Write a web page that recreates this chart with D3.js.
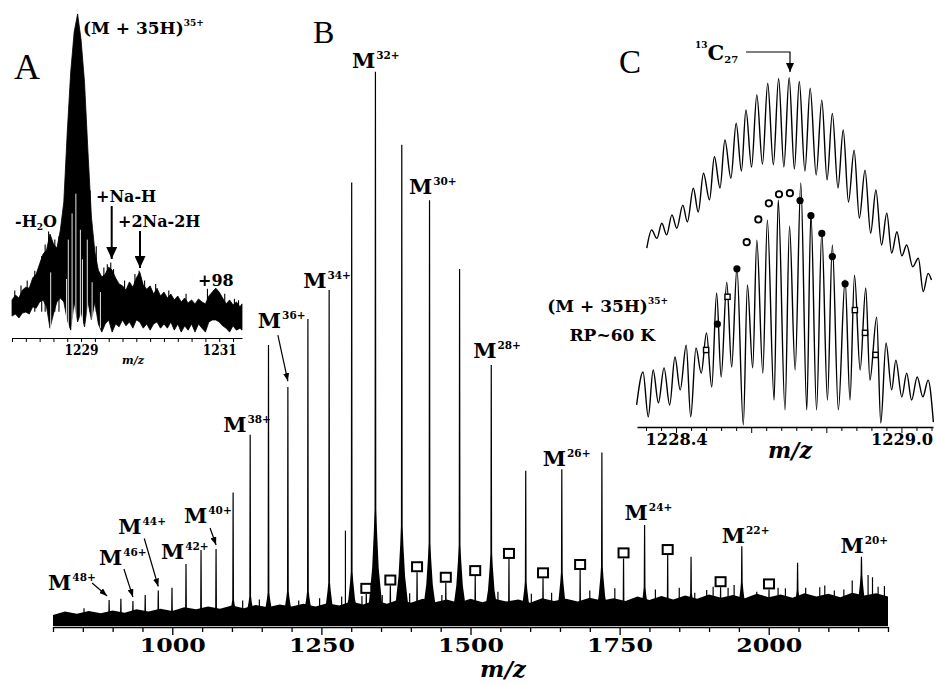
<!DOCTYPE html>
<html>
<head>
<meta charset="utf-8">
<script src="https://cdn.jsdelivr.net/npm/d3@7"></script>
<style>
  body { margin: 0; background: #fff; }
  svg { display: block; }
</style>
</head>
<body>
<svg id="chart" width="937" height="685"></svg>
<script>
// ---------- Panel B: full ESI spectrum ----------
const chargeStates = [48, 47, 46, 45, 44, 43, 42, 41, 40, 39, 38, 37, 36, 35, 34,
  33, 32, 31, 30, 29, 28, 27, 26, 25, 24, 23, 22, 21, 20];
const peakMz = [894.1, 913.8, 934.0, 954.6, 976.5, 999.5, 1023.0, 1048.2, 1073.4,
  1102.0, 1130.6, 1161.3, 1193.8, 1227.4, 1263.0, 1300.8, 1340.6, 1384.8, 1431.3,
  1481.7, 1534.8, 1592.6, 1653.1, 1720.3, 1791.9, 1869.8, 1954.9, 2048.4, 2155.5];
const peakHeight = [4.7, 4.9, 4.5, 5.6, 6.4, 6.9, 11.2, 13.7, 13.9, 24.1, 34.5, 50.7,
  43.1, 55.4, 60.6, 80.0, 100, 86.8, 76.8, 64.4, 47.1, 28.0, 28.3, 31.3, 18.2, 12.5,
  14.4, 11.4, 12.5];
const peakBase = [1.2, 1.2, 1.2, 1.5, 1.6, 2.0, 2.6, 3.0, 3.2, 4.7, 5.3, 6.0, 6.2, 6.2,
  7.8, 9.8, 21, 18, 15, 14.6, 13, 8, 9.6, 10.7, 7, 6, 7.8, 6.5, 9.2];
const labeledCharges = [48, 46, 44, 42, 40, 38, 36, 34, 32, 30, 28, 26, 24, 22, 20];

// second species, marked with open squares
const squareMz = [1325.3, 1365.6, 1410.4, 1458.6, 1507.9, 1564.5, 1621.6, 1683.8,
  1756.6, 1830.6, 1919.3, 2000.5];
const squareHeight = [5.8, 7.3, 9.7, 7.8, 9.0, 12.1, 8.6, 10.1, 12.2, 12.8, 7.0, 6.6];

// small unassigned spikes above the noise
const minorMz = [1284.0, 1290.3, 1118.0, 1146.0, 1247.0, 1318.0, 1452.0, 1602.0,
  1876.0, 1906.8, 1931.9, 2015.7, 2085.6, 2166.6, 2183.4, 2110.0, 1980.0, 852.0,
  1212.0, 1352.0, 1398.0, 1546.0, 1636.0, 1700.0, 1742.0, 1810.0, 1850.0, 1896.0,
  1942.0, 2028.0, 2062.0, 2094.0, 2126.0, 2140.0, 2174.0, 2194.0];
const minorHeight = [5.3, 17.2, 4.6, 4.8, 5.0, 5.4, 5.6, 5.8, 6.0, 7.1, 6.9, 6.9, 7.0,
  9.2, 7.1, 6.4, 6.2, 3.2, 4.6, 5.6, 5.9, 6.2, 6.0, 6.4, 6.8, 6.6, 6.9, 6.5, 7.4, 6.8,
  6.9, 7.3, 6.6, 8.2, 8.8, 7.2];

// top of the noise band
const noiseMz = [800, 820, 840, 860, 880, 900, 920, 940, 960, 980, 1000, 1020, 1040,
  1060, 1080, 1100, 1120, 1140, 1160, 1180, 1200, 1220, 1240, 1260, 1280, 1300, 1320,
  1340, 1360, 1380, 1400, 1420, 1440, 1460, 1480, 1500, 1520, 1540, 1560, 1580, 1600,
  1620, 1640, 1660, 1680, 1700, 1720, 1740, 1760, 1780, 1800, 1820, 1840, 1860, 1880,
  1900, 1920, 1940, 1960, 1980, 2000, 2020, 2040, 2060, 2080, 2100, 2120, 2140, 2160,
  2180, 2200];
const noiseLevel = [2.0, 2.6, 2.2, 2.7, 2.3, 2.8, 2.4, 3.0, 2.6, 3.1, 2.7, 3.4, 3.0,
  3.5, 3.1, 3.7, 3.2, 3.8, 3.4, 3.9, 3.5, 4.0, 3.5, 4.1, 3.7, 4.4, 3.9, 4.6, 4.0, 4.8,
  4.2, 4.9, 4.3, 4.8, 4.2, 4.9, 4.3, 4.9, 4.4, 4.8, 4.2, 5.0, 4.5, 4.9, 4.4, 5.1, 4.6,
  5.0, 4.5, 5.3, 4.7, 5.4, 4.8, 5.5, 4.9, 5.7, 5.1, 5.6, 5.0, 5.8, 5.2, 5.7, 5.1, 5.9,
  5.3, 5.8, 5.2, 6.0, 5.5, 5.9, 5.3];
const mainTickLabels = [1000, 1250, 1500, 1750, 2000];

// ---------- Panel A: zoom on the 35+ ion ----------
const specAMz = [1228.00, 1228.05, 1228.10, 1228.15, 1228.20, 1228.25, 1228.30, 1228.35,
  1228.40, 1228.45, 1228.50, 1228.55, 1228.60, 1228.65, 1228.70, 1228.75, 1228.80,
  1228.85, 1228.90, 1228.95, 1229.00, 1229.05, 1229.10, 1229.15, 1229.20, 1229.25,
  1229.30, 1229.35, 1229.40, 1229.45, 1229.50, 1229.55, 1229.60, 1229.65, 1229.70,
  1229.75, 1229.80, 1229.85, 1229.90, 1229.95, 1230.00, 1230.05, 1230.10, 1230.15,
  1230.20, 1230.25, 1230.30, 1230.35, 1230.40, 1230.45, 1230.50, 1230.55, 1230.60,
  1230.65, 1230.70, 1230.75, 1230.80, 1230.85, 1230.90, 1230.95, 1231.00, 1231.05,
  1231.10, 1231.15, 1231.20, 1231.25, 1231.30, 1231.33];
const specAHigh = [11.6, 13.1, 12.2, 14.6, 15.5, 15.2, 18.3, 19.5, 22.6, 25.6, 26.8, 31.7,
  28.7, 27.4, 32.9, 41.5, 62.8, 81.1, 93.3, 98.8, 90.9, 78.0, 56.7, 36.9, 26.2, 20.7,
  18.6, 19.5, 21.6, 20.7, 18.3, 16.5, 15.9, 14.6, 17.1, 15.5, 18.3, 20.1, 16.2, 14.9,
  15.9, 13.4, 15.2, 12.8, 14.0, 12.2, 13.4, 11.6, 12.8, 11.0, 12.2, 10.7, 11.6, 10.4,
  11.9, 11.0, 10.4, 12.8, 14.0, 15.2, 14.0, 12.2, 10.4, 11.6, 10.1, 11.0, 9.5, 10.4];
const specALow = [6.7, 7.3, 6.1, 7.6, 7.9, 7.3, 9.5, 9.1, 11.0, 11.6, 9.5, 3.0, 7.3, 11.0,
  12.2, 11.0, 5.5, 2.4, 11.0, 4.9, 7.9, 3.4, 11.0, 5.5, 11.0, 4.3, 1.8, 4.3, 5.5, 1.8,
  4.3, 3.4, 5.5, 3.7, 4.9, 3.0, 5.5, 4.9, 3.0, 4.3, 2.4, 4.3, 4.9, 3.0, 4.3, 3.0, 4.9,
  2.4, 4.3, 1.8, 3.7, 2.4, 4.3, 1.8, 4.3, 3.0, 1.8, 4.9, 5.5, 5.5, 4.9, 3.7, 3.0, 1.8,
  3.7, 2.4, 3.0, 2.4];
// single noise spikes (top) and deep noise dips (white streaks) in A
const spikeAMz = [1228.04, 1228.13, 1228.22, 1228.33, 1228.43, 1228.48, 1228.53, 1228.62,
  1228.68, 1229.13, 1229.22, 1229.33, 1229.38, 1229.43, 1229.47, 1229.63, 1229.78,
  1229.84, 1229.92, 1230.08, 1230.27, 1230.52, 1230.83, 1230.92, 1230.96, 1231.08,
  1231.22, 1231.28];
const spikeAInt = [14.5, 16.0, 17.5, 20.5, 25.0, 28.5, 32.5, 30.0, 31.0, 45.0, 28.0, 21.5,
  22.5, 23.0, 21.0, 17.5, 19.5, 20.5, 17.5, 16.5, 14.5, 13.5, 15.0, 14.6, 14.2, 13.5,
  12.0, 11.5];
const dipAMz = [1228.56, 1228.79, 1228.815, 1228.87, 1228.925, 1228.99, 1229.02, 1229.09,
  1229.16, 1229.28];
const dipAInt = [20, 18, 30, 38, 44, 33, 24, 30, 17, 14];
const tickLabelsA = [1229, 1231];

// ---------- Panel C: isotopic fine structure ----------
const upperMz = [1228.322, 1228.335, 1228.349, 1228.362, 1228.375, 1228.389, 1228.402,
  1228.418, 1228.430, 1228.446, 1228.459, 1228.473, 1228.489, 1228.502, 1228.517,
  1228.530, 1228.546, 1228.560, 1228.574, 1228.586, 1228.601, 1228.615, 1228.630,
  1228.644, 1228.659, 1228.673, 1228.687, 1228.701, 1228.715, 1228.728, 1228.743,
  1228.757, 1228.773, 1228.788, 1228.802, 1228.816, 1228.831, 1228.845, 1228.859,
  1228.874, 1228.888, 1228.903, 1228.918, 1228.932, 1228.947, 1228.961, 1228.974,
  1228.988, 1229.001, 1229.014, 1229.030, 1229.045, 1229.058, 1229.071, 1229.080];
const upperInt = [51.1, 56.3, 53.9, 58.2, 54.9, 60.6, 56.8, 63.4, 58.6, 68.2, 61.4, 72.5,
  64.9, 77.2, 68.3, 82.0, 71.1, 86.8, 73.1, 90.6, 74.3, 94.9, 75.1, 98.2, 74.9, 99.6,
  74.3, 99.8, 73.7, 98.7, 73.1, 96.8, 72.0, 93.4, 70.6, 89.6, 68.3, 84.9, 64.3, 79.1,
  59.7, 73.4, 55.4, 67.7, 52.0, 61.1, 49.7, 55.8, 48.9, 52.0, 45.8, 48.2, 38.7, 43.9,
  42.0];
const lowerMz = [1228.295, 1228.312, 1228.326, 1228.339, 1228.353, 1228.368, 1228.383,
  1228.397, 1228.411, 1228.427, 1228.439, 1228.453, 1228.467, 1228.481, 1228.495,
  1228.508, 1228.520, 1228.535, 1228.548, 1228.562, 1228.579, 1228.590, 1228.604,
  1228.615, 1228.631, 1228.643, 1228.661, 1228.672, 1228.690, 1228.702, 1228.717,
  1228.732, 1228.748, 1228.759, 1228.774, 1228.788, 1228.803, 1228.816, 1228.832,
  1228.850, 1228.863, 1228.875, 1228.890, 1228.905, 1228.916, 1228.934, 1228.945,
  1228.959, 1228.974, 1228.985, 1229.001, 1229.014, 1229.027, 1229.042, 1229.057,
  1229.071, 1229.085];
const lowerInt = [6.3, 15.7, 2.9, 16.3, 6.9, 16.9, 6.3, 20.0, 10.6, 23.4, 2.9, 22.6, 15.4,
  26.9, 11.4, 38.3, 14.3, 41.4, 17.1, 45.4, 0.6, 40.6, 16.9, 53.4, 15.4, 59.1, 7.7, 64.9,
  4.9, 57.4, 16.3, 69.7, 4.9, 61.1, 4.9, 55.7, 7.7, 52.0, 4.9, 42.0, 7.7, 43.4, 16.3,
  39.7, 13.4, 31.4, 1.1, 24.0, 10.6, 19.1, 8.6, 15.4, 7.7, 14.3, 8.6, 13.4, 1.4];
const openCircleMz = [1228.588, 1228.619, 1228.647, 1228.674, 1228.703];
const openCircleInt = [52.8, 59.3, 63.9, 66.5, 66.8];
const filledDotMz = [1228.510, 1228.562, 1228.730, 1228.759, 1228.788, 1228.816, 1228.850];
const filledDotInt = [29.4, 45.2, 64.7, 60.4, 55.3, 48.7, 40.9];
const smallSquareMz = [1228.480, 1228.537, 1228.876, 1228.903, 1228.931];
const smallSquareInt = [22.0, 37.2, 33.4, 26.9, 20.6];
const tickLabelsC = [1228.4, 1229.0];

// ---------- drawing ----------
const SERIF = "DejaVu Serif";
const svg = d3.select("#chart");
const defs = svg.append("defs");
function arrowMarker(id, w, h) {
  defs.append("marker").attr("id", id).attr("viewBox", `0 0 ${w} ${h}`)
    .attr("refX", w).attr("refY", h / 2).attr("markerWidth", w).attr("markerHeight", h)
    .attr("markerUnits", "userSpaceOnUse").attr("orient", "auto")
    .append("path").attr("d", `M0,0L${w},${h / 2}L0,${h}Z`).attr("fill", "#000");
}
arrowMarker("arrow-sm", 8, 6);
arrowMarker("arrow-lg", 12, 11);
arrowMarker("arrow-c", 9, 8);

function ionLabel(g, px, py, charge, size) {
  const t = g.append("text").attr("x", px).attr("y", py)
    .attr("font-family", SERIF).attr("font-weight", "bold").attr("fill", "#000");
  t.append("tspan").attr("font-size", size).text("M");
  t.append("tspan").attr("font-size", size * 0.5).attr("dy", -size * 0.42).attr("dx", 1)
    .text(charge + "+");
}

// --- B ---
const x = d3.scaleLinear([800, 2200], [53, 888]);
const y = d3.scaleLinear([0, 100], [626, 71.7]);
const gB = svg.append("g");

gB.append("path")
  .datum(noiseMz.map((m, i) => [m, noiseLevel[i]]))
  .attr("fill", "#000")
  .attr("d", d3.area().x(d => x(d[0])).y0(y(0)).y1(d => y(d[1])));

// minor spikes first so the real peaks sit on top
gB.append("g").selectAll("line").data(minorMz).join("line")
  .attr("x1", d => x(d)).attr("x2", d => x(d))
  .attr("y1", y(0)).attr("y2", (d, i) => y(minorHeight[i]))
  .attr("stroke", "#000").attr("stroke-width", 1.2);

const peakLine = d3.line();
function drawPeak(mz, h, b, hw) {
  const px = x(mz), base = y(0), top = y(h), body = y(b), bh = base - body;
  const pts = [[px - hw, base], [px - hw * 0.5, base - bh * 0.2], [px - hw * 0.25, base - bh * 0.5],
    [px - hw * 0.12, base - bh * 0.82], [px - 0.9, body], [px - 0.6, top], [px + 0.6, top],
    [px + 0.9, body], [px + hw * 0.12, base - bh * 0.82], [px + hw * 0.25, base - bh * 0.5],
    [px + hw * 0.5, base - bh * 0.2], [px + hw, base]];
  gB.append("path").attr("d", peakLine(pts) + "Z").attr("fill", "#000");
}
peakMz.forEach((m, i) => drawPeak(m, peakHeight[i], peakBase[i], 13));
squareMz.forEach((m, i) => drawPeak(m, squareHeight[i], 2.8, 7));

gB.append("g").selectAll("rect").data(squareMz).join("rect")
  .attr("x", d => x(d) - 5).attr("y", (d, i) => y(squareHeight[i]) - 10)
  .attr("width", 10).attr("height", 9)
  .attr("fill", "#fff").attr("stroke", "#000").attr("stroke-width", 2);

const axB = gB.append("g").attr("transform", "translate(0,627)")
  .call(d3.axisBottom(x).tickValues(d3.range(800, 2201, 50)).tickSize(5).tickSizeOuter(0)
    .tickPadding(7).tickFormat(d => mainTickLabels.includes(d) ? d : ""));
axB.select(".domain").attr("stroke-width", 1.6);
axB.selectAll(".tick line").attr("stroke-width", 1.3)
  .attr("y2", d => mainTickLabels.includes(d) ? 8 : 5);
axB.selectAll(".tick text").attr("font-family", SERIF).attr("font-weight", "bold")
  .attr("font-size", 19).attr("fill", "#000")
  .filter(d => mainTickLabels.includes(d))
  .attr("textLength", 66).attr("lengthAdjust", "spacingAndGlyphs");
gB.append("text").attr("x", 503).attr("y", 677).attr("text-anchor", "middle")
  .attr("font-family", SERIF).attr("font-weight", "bold").attr("font-style", "italic")
  .attr("font-size", 23).text("m/z");

// label placement relative to each peak top: [dx, dy, arrow]
const labelLayout = {
  48: [-61, -10, [-17, -17, -2, -4]], 46: [-34, -36, [-9, -32, 0, -4]],
  44: [-40, -57, [-14, -52, 0, -4]], 42: [-25, -5], 40: [-32, -26, [-6, -21, 0, -4]],
  38: [-27, -3], 36: [-30, -59, [-10, -52, 0, -6]], 34: [-26, -2], 32: [-23.5, -4],
  30: [-20.6, -6], 28: [-18, -7], 26: [-19, -3], 24: [-20, -5], 22: [-20, -3], 20: [-21, -4]
};
labeledCharges.forEach(z => {
  const i = chargeStates.indexOf(z);
  const px = x(peakMz[i]), py = y(peakHeight[i]);
  const [dx, dy, ar] = labelLayout[z];
  ionLabel(gB, px + dx, py + dy, z, 21);
  if (ar) {
    gB.append("line").attr("x1", px + ar[0]).attr("y1", py + ar[1])
      .attr("x2", px + ar[2]).attr("y2", py + ar[3])
      .attr("stroke", "#000").attr("stroke-width", 1.2).attr("marker-end", "url(#arrow-sm)");
  }
});

// --- A ---
const xA = d3.scaleLinear([1228.0, 1231.33], [12, 242]);
const yA = d3.scaleLinear([0, 100], [338, 10]);
const gA = svg.append("g");
gA.append("path")
  .datum(specAMz.map((m, i) => [m, specALow[i], specAHigh[i]]))
  .attr("fill", "#000").attr("stroke", "#000").attr("stroke-width", 0.8)
  .attr("d", d3.area().x(d => xA(d[0])).y0(d => yA(d[1])).y1(d => yA(d[2])));
gA.append("g").selectAll("line").data(spikeAMz).join("line")
  .attr("x1", d => xA(d)).attr("x2", d => xA(d))
  .attr("y1", yA(8)).attr("y2", (d, i) => yA(spikeAInt[i]))
  .attr("stroke", "#000").attr("stroke-width", 1.1);
gA.append("g").selectAll("line").data(dipAMz).join("line")
  .attr("x1", d => xA(d)).attr("x2", d => xA(d))
  .attr("y1", yA(3)).attr("y2", (d, i) => yA(dipAInt[i]))
  .attr("stroke", "#fff").attr("stroke-width", 0.9);

const axA = gA.append("g").attr("transform", "translate(0,338)")
  .call(d3.axisBottom(xA).tickValues(d3.range(0, 17).map(i => 1228 + i * 0.2)).tickSize(4)
    .tickSizeOuter(0).tickPadding(3)
    .tickFormat(d => tickLabelsA.some(v => Math.abs(v - d) < 1e-6) ? d3.format("d")(d) : ""));
axA.select(".domain").attr("stroke-width", 1.2);
axA.selectAll(".tick line").attr("stroke-width", 1);
axA.selectAll(".tick text").attr("font-family", SERIF).attr("font-weight", "bold")
  .attr("font-size", 14).attr("fill", "#000")
  .filter(d => tickLabelsA.some(v => Math.abs(v - d) < 1e-6))
  .attr("textLength", 34).attr("lengthAdjust", "spacingAndGlyphs");
gA.append("text").attr("x", 133).attr("y", 364).attr("text-anchor", "middle")
  .attr("font-family", SERIF).attr("font-weight", "bold").attr("font-style", "italic")
  .attr("font-size", 11).text("m/z");

function boldText(g, px, py, size) {
  return g.append("text").attr("x", px).attr("y", py).attr("font-family", SERIF)
    .attr("font-weight", "bold").attr("font-size", size).attr("fill", "#000");
}
const tA = boldText(gA, 83, 34, 17);
tA.append("tspan").text("(M + 35H)");
tA.append("tspan").attr("font-size", 9).attr("dy", -8).text("35+");
const tH2O = boldText(gA, 15, 227, 16);
tH2O.append("tspan").text("-H");
tH2O.append("tspan").attr("font-size", 9).attr("dy", 3).text("2");
tH2O.append("tspan").attr("dy", -3).text("O");
boldText(gA, 96, 202, 16).text("+Na-H");
boldText(gA, 118, 227, 16).text("+2Na-2H");
boldText(gA, 198, 286, 16).text("+98");
gA.append("line").attr("x1", 111.7).attr("x2", 111.7).attr("y1", 206).attr("y2", 259)
  .attr("stroke", "#000").attr("stroke-width", 2).attr("marker-end", "url(#arrow-lg)");
gA.append("line").attr("x1", 140).attr("x2", 140).attr("y1", 231).attr("y2", 268)
  .attr("stroke", "#000").attr("stroke-width", 2).attr("marker-end", "url(#arrow-lg)");

// --- C ---
const xC = d3.scaleLinear([1228.296, 1229.084], [637, 933]);
const yC = d3.scaleLinear([0, 100], [427, 77]);
const gC = svg.append("g");
const traceC = d3.line().x(d => xC(d[0])).y(d => yC(d[1])).curve(d3.curveMonotoneX);
gC.append("path").datum(upperMz.map((m, i) => [m, upperInt[i]]))
  .attr("d", traceC).attr("fill", "none").attr("stroke", "#000").attr("stroke-width", 1.4);
gC.append("path").datum(lowerMz.map((m, i) => [m, lowerInt[i]]))
  .attr("d", traceC).attr("fill", "none").attr("stroke", "#000").attr("stroke-width", 1.4);

gC.append("g").selectAll("circle").data(openCircleMz).join("circle")
  .attr("cx", d => xC(d)).attr("cy", (d, i) => yC(openCircleInt[i])).attr("r", 3.2)
  .attr("fill", "#fff").attr("stroke", "#000").attr("stroke-width", 1.8);
gC.append("g").selectAll("circle").data(filledDotMz).join("circle")
  .attr("cx", d => xC(d)).attr("cy", (d, i) => yC(filledDotInt[i])).attr("r", 3.6)
  .attr("fill", "#000");
gC.append("g").selectAll("rect").data(smallSquareMz).join("rect")
  .attr("x", d => xC(d) - 2.6).attr("y", (d, i) => yC(smallSquareInt[i]) - 2.6)
  .attr("width", 5.2).attr("height", 5.2)
  .attr("fill", "#fff").attr("stroke", "#000").attr("stroke-width", 1.4);

const isMajorC = d => Math.abs((d - 1228.4) / 0.2 - Math.round((d - 1228.4) / 0.2)) < 1e-6;
const axC = gC.append("g").attr("transform", "translate(0,427)")
  .call(d3.axisBottom(xC).tickValues(d3.range(0, 20).map(i => 1228.32 + i * 0.04))
    .tickSize(4).tickSizeOuter(0).tickPadding(3)
    .tickFormat(d => tickLabelsC.some(v => Math.abs(v - d) < 1e-6) ? d3.format(".1f")(d) : ""));
axC.select(".domain").attr("stroke-width", 1.3);
axC.selectAll(".tick line").attr("stroke-width", 1).attr("y2", d => isMajorC(d) ? 6 : 4);
axC.selectAll(".tick text").attr("font-family", SERIF).attr("font-weight", "bold")
  .attr("font-size", 16).attr("fill", "#000")
  .filter(d => tickLabelsC.some(v => Math.abs(v - d) < 1e-6))
  .attr("textLength", 62).attr("lengthAdjust", "spacingAndGlyphs");
gC.append("text").attr("x", 790).attr("y", 458).attr("text-anchor", "middle")
  .attr("font-family", SERIF).attr("font-weight", "bold").attr("font-style", "italic")
  .attr("font-size", 22).text("m/z");

const tC = boldText(gC, 668, 312, 17).attr("text-anchor", "end");
tC.append("tspan").text("(M + 35H)");
tC.append("tspan").attr("font-size", 9).attr("dy", -8).text("35+");
boldText(gC, 655, 341, 17).attr("text-anchor", "end").text("RP~60 K");

const t13 = boldText(gC, 695, 60, 21);
t13.append("tspan").attr("font-size", 9).attr("dy", -12).text("13");
t13.append("tspan").attr("dy", 12).text("C");
t13.append("tspan").attr("font-size", 10).attr("dy", 3).text("27");
gC.append("path").attr("d", "M746,52H790V72").attr("fill", "none")
  .attr("stroke", "#000").attr("stroke-width", 1.2).attr("marker-end", "url(#arrow-c)");

// panel letters
[["A", 14, 79, 36], ["B", 313, 43, 32], ["C", 619, 73, 33]].forEach(([s, px, py, fs]) => {
  svg.append("text").attr("x", px).attr("y", py).attr("font-family", "Liberation Serif")
    .attr("font-size", fs).attr("fill", "#000").text(s);
});
</script>
</body>
</html>
